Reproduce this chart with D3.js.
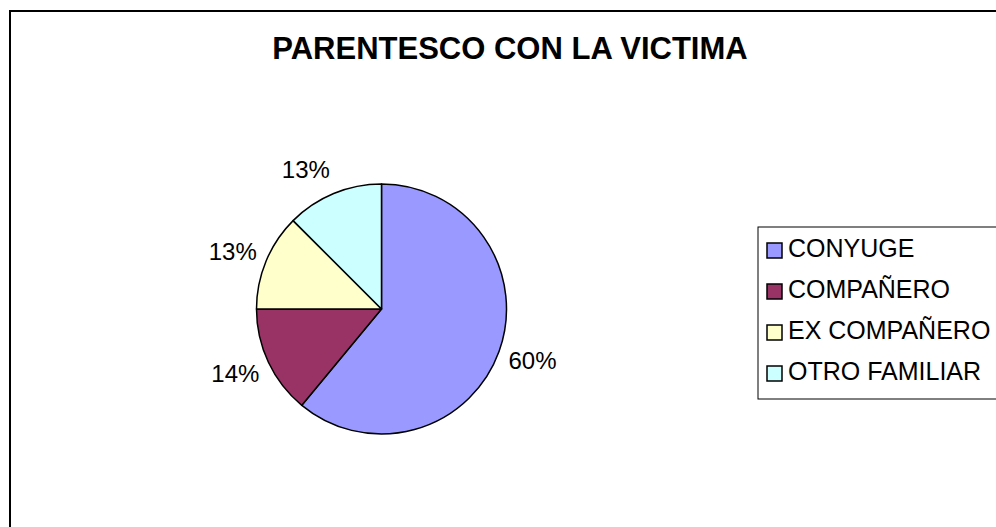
<!DOCTYPE html>
<html>
<head>
<meta charset="utf-8">
<script src="https://cdn.jsdelivr.net/npm/d3@7"></script>
<style>
  body { margin: 0; background: #fff; }
  svg { display: block; font-family: "Liberation Sans", Arial, sans-serif; }
</style>
</head>
<body>
<div id="chart"></div>
<script>
// data
const categories = ["CONYUGE", "COMPAÑERO", "EX COMPAÑERO", "OTRO FAMILIAR"];
const shares = [61, 14, 12.5, 12.5];
const percentLabels = ["60%", "14%", "13%", "13%"];
const colors = ["#9999FF", "#993366", "#FFFFCC", "#CCFFFF"];
const title = "PARENTESCO CON LA VICTIMA";

const width = 996, height = 527;

const svg = d3.select("#chart")
    .append("svg")
    .attr("width", width)
    .attr("height", height);

// outer chart frame (runs off the right and bottom edge)
svg.append("rect")
    .attr("x", 10)
    .attr("y", 11)
    .attr("width", 1010)
    .attr("height", 560)
    .attr("fill", "#fff")
    .attr("stroke", "#000")
    .attr("stroke-width", 2);

// title
svg.append("text")
    .attr("x", 510)
    .attr("y", 59)
    .attr("text-anchor", "middle")
    .attr("font-size", "31px")
    .attr("font-weight", "bold")
    .attr("fill", "#000")
    .text(title);

// pie
const cx = 381.5, cy = 309, radius = 125;

const pie = d3.pie().sort(null).value(d => d.value);
const arc = d3.arc().innerRadius(0).outerRadius(radius);

const data = categories.map((c, i) => ({ name: c, value: shares[i], label: percentLabels[i], color: colors[i] }));
const arcs = pie(data);

const g = svg.append("g").attr("transform", `translate(${cx},${cy})`);

g.selectAll("path.slice")
    .data(arcs)
    .enter()
    .append("path")
    .attr("class", "slice")
    .attr("d", arc)
    .attr("fill", d => d.data.color)
    .attr("stroke", "#000")
    .attr("stroke-width", 1.5)
    .attr("stroke-linejoin", "round");

// percentage labels, outside end like excel
const labelR = radius + 10;
g.selectAll("text.pct")
    .data(arcs)
    .enter()
    .append("text")
    .attr("class", "pct")
    .attr("font-size", "24px")
    .attr("fill", "#000")
    .attr("text-anchor", "middle")
    .attr("dy", "0.35em")
    .text(d => d.data.label)
    .each(function(d) {
        const a = (d.startAngle + d.endAngle) / 2;
        const w = this.getComputedTextLength();
        const h = 32;
        const x = labelR * Math.sin(a) + (Math.sin(a) >= 0 ? 1 : -1) * w / 2;
        const y = -labelR * Math.cos(a) - h / 2 * Math.cos(a);
        d3.select(this).attr("x", x).attr("y", y);
    });

// legend
const legendX = 758, legendY = 227, rowH = 41;
const legend = svg.append("g");

legend.append("rect")
    .attr("x", legendX)
    .attr("y", legendY)
    .attr("width", 260)
    .attr("height", 172)
    .attr("fill", "#fff")
    .attr("stroke", "#000")
    .attr("stroke-width", 1);

const items = legend.selectAll("g.item")
    .data(data)
    .enter()
    .append("g")
    .attr("class", "item")
    .attr("transform", (d, i) => `translate(${legendX}, ${legendY + 30 + i * rowH})`);

items.append("rect")
    .attr("x", 9)
    .attr("y", -14)
    .attr("width", 15)
    .attr("height", 15)
    .attr("fill", d => d.color)
    .attr("stroke", "#000")
    .attr("stroke-width", 1.5);

items.append("text")
    .attr("x", 30)
    .attr("y", 0)
    .attr("font-size", "25px")
    .attr("fill", "#000")
    .text(d => d.name);
</script>
</body>
</html>
